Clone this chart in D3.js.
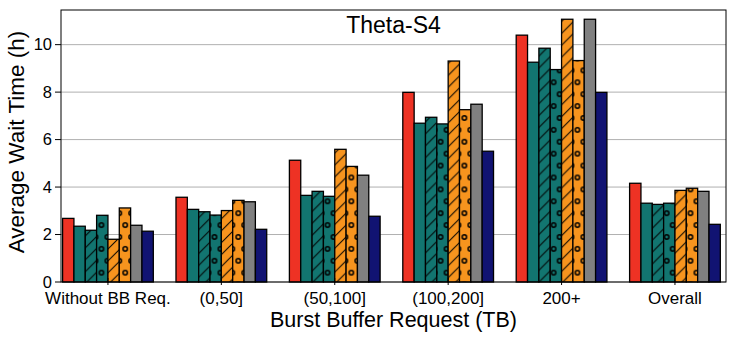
<!DOCTYPE html>
<html>
<head>
    <title>Theta-S4 wait time</title>
    <script src="https://d3js.org/d3.v7.min.js"></script>
    <style>
        body { margin: 0; background: #fff; }
        text { font-family: "Liberation Sans", Arial, sans-serif; fill: #000; }
    </style>
</head>
<body>
    <script>
        var categories = ["Without BB Req.", "(0,50]", "(50,100]", "(100,200]", "200+", "Overall"];
        var yTicks = [0, 2, 4, 6, 8, 10];

        // one array per bar series, in drawing order inside each group
        var redPlain = [2.68, 3.57, 5.13, 7.99, 10.40, 4.16];
        var tealPlain = [2.35, 3.06, 3.65, 6.69, 9.26, 3.32];
        var tealHatch = [2.18, 2.96, 3.82, 6.94, 9.85, 3.27];
        var tealDots = [2.81, 2.82, 3.61, 6.66, 8.95, 3.32];
        var orangeHatch = [1.80, 3.01, 5.59, 9.31, 11.07, 3.86];
        var orangeDots = [3.12, 3.44, 4.87, 7.26, 9.33, 3.95];
        var greyPlain = [2.39, 3.38, 4.50, 7.49, 11.07, 3.82];
        var navyPlain = [2.14, 2.22, 2.77, 5.51, 7.99, 2.43];

        var series = [
            {values: redPlain, color: "#ee3224", pattern: null},
            {values: tealPlain, color: "#127570", pattern: null},
            {values: tealHatch, color: "#127570", pattern: "hatch"},
            {values: tealDots, color: "#127570", pattern: "dots"},
            {values: orangeHatch, color: "#f7941e", pattern: "hatch"},
            {values: orangeDots, color: "#f7941e", pattern: "dots"},
            {values: greyPlain, color: "#808080", pattern: null},
            {values: navyPlain, color: "#111372", pattern: null}
        ];

        var W = 736, H = 338;
        var plotL = 61, plotR = 726, plotT = 10, plotB = 282;

        var svg = d3.select("body").append("svg")
            .attr("width", W)
            .attr("height", H);

        var x = d3.scaleLinear().domain([-0.414, 5.45]).range([plotL, plotR]);
        var y = d3.scaleLinear().domain([0, 11.46]).range([plotB, plotT]);
        var barW = 0.1;

        // patterns, fixed to the page like matplotlib hatches
        var defs = svg.append("defs");
        series.forEach(function(s, i) {
            if (!s.pattern) return;
            var id = "pat" + i;
            s.fill = "url(#" + id + ")";
            if (s.pattern === "hatch") {
                var p = defs.append("pattern")
                    .attr("id", id)
                    .attr("patternUnits", "userSpaceOnUse")
                    .attr("width", 11.9).attr("height", 11.9);
                p.append("rect").attr("width", 11.9).attr("height", 11.9).attr("fill", s.color);
                p.append("path")
                    .attr("d", "M-1,12.9L12.9,-1M-1,1L1,-1M10.9,12.9L12.9,10.9")
                    .attr("stroke", "#000").attr("stroke-width", 1);
            } else {
                var p2 = defs.append("pattern")
                    .attr("id", id)
                    .attr("patternUnits", "userSpaceOnUse")
                    .attr("width", 11.9).attr("height", 23.8)
                    .attr("patternTransform", "translate(0.3,-1)");
                p2.append("rect").attr("width", 11.9).attr("height", 23.8).attr("fill", s.color);
                [[0, 0], [11.9, 0], [5.95, 11.9], [0, 23.8], [11.9, 23.8]].forEach(function(c) {
                    p2.append("circle")
                        .attr("cx", c[0]).attr("cy", c[1]).attr("r", 2.2)
                        .attr("fill", "none").attr("stroke", "#000").attr("stroke-width", 1.5);
                });
            }
        });

        // grid
        svg.append("g").selectAll("line").data(yTicks).join("line")
            .attr("x1", plotL).attr("x2", plotR)
            .attr("y1", function(d) { return y(d); })
            .attr("y2", function(d) { return y(d); })
            .attr("stroke", "#b0b0b0").attr("stroke-width", 1);

        // bars
        series.forEach(function(s, si) {
            svg.append("g").selectAll("rect").data(s.values).join("rect")
                .attr("x", function(d, gi) { return x(gi - 0.4 + si * barW); })
                .attr("y", function(d) { return y(d); })
                .attr("width", x(barW) - x(0))
                .attr("height", function(d) { return y(0) - y(d); })
                .attr("fill", s.fill || s.color)
                .attr("stroke", "#000")
                .attr("stroke-width", 1.3);
        });

        // frame
        svg.append("rect")
            .attr("x", plotL).attr("y", plotT)
            .attr("width", plotR - plotL).attr("height", plotB - plotT)
            .attr("fill", "none").attr("stroke", "#000").attr("stroke-width", 1);

        // y axis
        var yAxis = svg.append("g");
        yTicks.forEach(function(t) {
            yAxis.append("line")
                .attr("x1", plotL - 6).attr("x2", plotL)
                .attr("y1", y(t)).attr("y2", y(t))
                .attr("stroke", "#000");
            yAxis.append("text")
                .attr("x", plotL - 9).attr("y", y(t))
                .attr("dy", "0.35em")
                .attr("text-anchor", "end")
                .attr("font-size", 16.5)
                .text(t);
        });

        // x axis
        var xAxis = svg.append("g");
        categories.forEach(function(c, i) {
            xAxis.append("line")
                .attr("x1", x(i)).attr("x2", x(i))
                .attr("y1", plotB - 4).attr("y2", plotB + 3)
                .attr("stroke", "#000");
            xAxis.append("text")
                .attr("x", x(i)).attr("y", 304)
                .attr("text-anchor", "middle")
                .attr("font-size", 17)
                .text(c);
        });

        svg.append("text")
            .attr("x", (plotL + plotR) / 2).attr("y", 327)
            .attr("text-anchor", "middle")
            .attr("font-size", 21.5)
            .text("Burst Buffer Request (TB)");

        svg.append("text")
            .attr("transform", "translate(24,142) rotate(-90)")
            .attr("text-anchor", "middle")
            .attr("font-size", 22.5)
            .text("Average Wait Time (h)");

        svg.append("text")
            .attr("x", (plotL + plotR) / 2).attr("y", 33)
            .attr("text-anchor", "middle")
            .attr("font-size", 23)
            .text("Theta-S4");
    </script>
</body>
</html>
